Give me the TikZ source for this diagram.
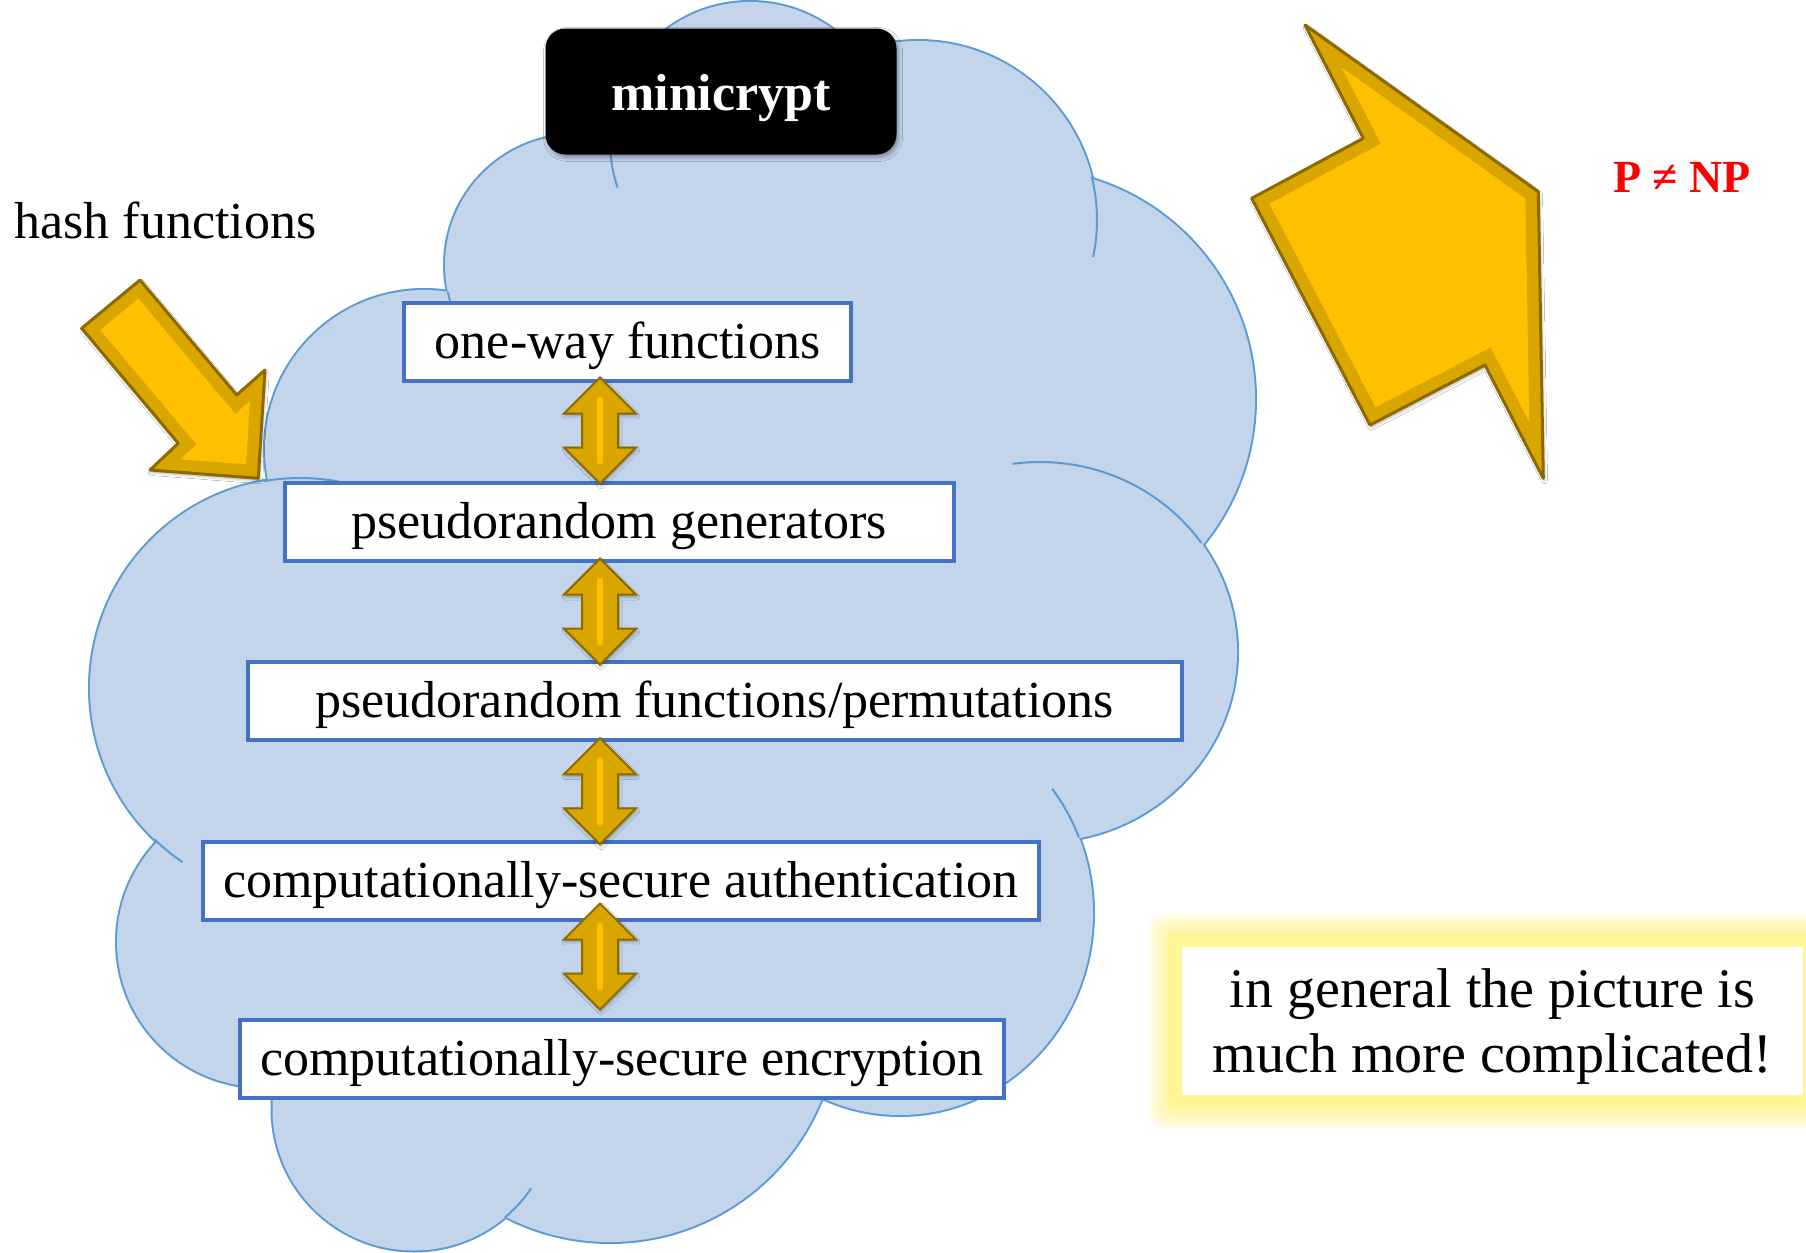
\documentclass[tikz,border=0pt]{standalone}
\usepackage{fontspec}
\setmainfont{Liberation Serif}
\usetikzlibrary{shadows.blur}

\definecolor{cloudfill}{RGB}{196,213,235}
\definecolor{cloudedge}{RGB}{91,155,213}
\definecolor{boxedge}{RGB}{68,114,196}
\definecolor{goldlight}{RGB}{255,192,0}
\definecolor{goldmid}{RGB}{217,166,0}
\definecolor{golddark}{RGB}{140,106,0}
\definecolor{glowyellow}{RGB}{255,246,150}

\newcommand\lblfont{\fontsize{26}{31}\selectfont}

\begin{document}
\begin{tikzpicture}[x=0.5pt, y=-0.5pt,
  lobe/.style={draw=cloudedge, line width=2pt},
  seam/.style={draw=cloudedge, line width=1pt},
  stage/.style={draw=boxedge, line width=2pt, fill=white, inner sep=0pt,
    font=\lblfont, text height=18.2pt, text depth=1.6pt, minimum height=39pt},
  gold shadow/.style={blur shadow={shadow xshift=0.6pt, shadow yshift=-1.2pt,
    shadow blur radius=1.5pt, shadow opacity=30}},
  dblarrow/.pic={
    \path[gold shadow, fill=goldmid, draw=golddark, line width=1pt, line join=miter]
      (0,-53) -- (36,-17) -- (18,-17) -- (18,17) -- (36,17) -- (0,53)
      -- (-36,17) -- (-18,17) -- (-18,-17) -- (-36,-17) -- cycle;
    \draw[goldlight, line width=3pt, line cap=round] (0,-31) -- (0,31);
  }
]
\fill[white] (0,0) rectangle (1806,1253);
\useasboundingbox (0,0) rectangle (1806,1253);

% ---------- the cloud: lobes, body and inner seams ----------
\def\lobelist{750/142/140/140, 918/220/179/179, 1025/399/230/230,
  1040/652/197/190, 900/913/193/202, 610/1014/228/228, 414/1109/141.5/141.5,
  262/942/145/145, 300/688/210/210, 424/449/159/159, 575/265/130/130}
\foreach \cx/\cy/\rx/\ry in \lobelist
  {\path[lobe] (\cx,\cy) ellipse[x radius=\rx, y radius=\ry];}
\foreach \cx/\cy/\rx/\ry in \lobelist
  {\fill[cloudfill] (\cx,\cy) ellipse[x radius=\rx, y radius=\ry];}
\fill[cloudfill] (750,142) -- (918,220) -- (1025,399) -- (1040,652) -- (900,913)
  -- (610,1014) -- (414,1109) -- (262,942) -- (300,688) -- (424,449)
  -- (575,265) -- cycle;

\draw[seam] (750,142) ++(176:140) arc[start angle=176, end angle=161, radius=140];
\draw[seam] (918,220) ++(-14:179) arc[start angle=-14, end angle=12, radius=179];
\draw[seam] (1040,652) ++(-98:197 and 190) arc[start angle=-98, end angle=-35, x radius=197, y radius=190];
\draw[seam] (900,913) ++(-38:193 and 202) arc[start angle=-38, end angle=-22, x radius=193, y radius=202];
\draw[seam] (300,688) ++(134:210) arc[start angle=134, end angle=124, radius=210];
\draw[seam] (300,688) ++(-100:210) arc[start angle=-100, end angle=-75, radius=210];
\draw[seam] (575,265) ++(168:130) arc[start angle=168, end angle=158, radius=130];
\draw[seam] (414,1109) ++(50:141.5) arc[start angle=50, end angle=34, radius=141.5];

% ---------- the chain of equivalent primitives ----------
\node[stage, minimum width=223.5pt] (owf) at (627.75,341.5) {one-way functions};
\node[stage, minimum width=334.6pt] (prg) at (619.1,521.75) {pseudorandom generators};
\node[stage, minimum width=467pt] (prf) at (714.65,700.7) {pseudorandom functions/permutations};
\node[stage, minimum width=417.8pt] (mac) at (620.9,880.9) {computationally-secure authentication};
\node[stage, minimum width=381.9pt] (enc) at (621.9,1058.6) {computationally-secure encryption};

\pic (eq1) at (600,430.5) {dblarrow};
\pic (eq2) at (600,611.6) {dblarrow};
\pic (eq3) at (600,791.3) {dblarrow};
\pic (eq4) at (600,956.5) {dblarrow};

% ---------- title tag ----------
\node[fill=black, rounded corners=10pt, minimum width=175.5pt, minimum height=63pt,
  inner sep=0pt, text=white, font=\bfseries\lblfont, text height=18.5pt, text depth=0pt,
  blur shadow={shadow xshift=1pt, shadow yshift=-1.5pt, shadow blur radius=2pt, shadow opacity=35}]
  (mini) at (721,91.5) {minicrypt};

% ---------- hash functions arrow ----------
\node[anchor=base west, inner sep=0pt, font=\lblfont] (hash) at (14,238) {hash functions};
\def\hashpath{(81.7,328.3) -- (140,280) -- (236.7,395) -- (265,370) -- (258.3,478.3)
  -- (150,470) -- (178.3,443.3) -- cycle}
\fill[goldlight, gold shadow] \hashpath;
\begin{scope}
  \clip \hashpath;
  \draw[goldmid, line width=13pt] \hashpath;
\end{scope}
\draw[golddark, line width=1.5pt, line join=round] \hashpath;

% ---------- bent arrow towards P != NP ----------
\def\bentpath{(1305,25) -- (1363.3,138.3) -- (1251.7,198.3) -- (1370,425) -- (1485,365)
  -- (1543.3,478.3) -- (1538.3,191.7) -- cycle}
\fill[goldlight, gold shadow] \bentpath;
\begin{scope}
  \clip \bentpath;
  \draw[goldmid, line width=13pt] \bentpath;
\end{scope}
\draw[golddark, line width=1.5pt, line join=round] \bentpath;

\node[anchor=base, inner sep=0pt, text=red, font=\bfseries\fontsize{23}{28}\selectfont]
  (pnp) at (1682,192) {P ≠ NP};

% ---------- glowing remark ----------
\foreach \g in {34,32,...,14}
  \fill[glowyellow, opacity=0.13, rounded corners=8pt] (1182-\g,947-\g) rectangle (1803+\g,1095+\g);
\fill[glowyellow, rounded corners=3pt] (1168,933) rectangle (1817,1109);
\node[fill=white, minimum width=310.5pt, minimum height=74pt, inner sep=0pt] (note) at (1492.5,1021) {};
\node[align=center, inner sep=0pt, font=\fontsize{28}{32.5}\selectfont] (notetext)
  at ([yshift=-3pt]note.center) {in general the picture is\\much more complicated!};
\end{tikzpicture}
\end{document}
